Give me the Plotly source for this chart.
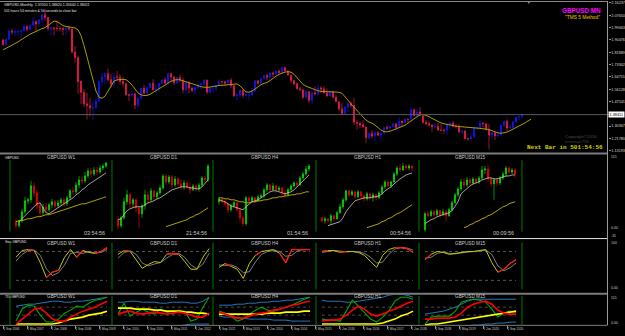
import plotly.graph_objects as go

W, H = 625, 336
def px(x): return x / W
def py(y): return 1 - y / H

FONT = "Liberation Sans"
MONO = "Liberation Mono"

# ---------------- main monthly chart (Sep 2006 .. Feb 2021) ----------------
mn_first_open = 1.9050
mn_close = [1.8725, 1.9085, 1.9670, 1.9585,
    1.9610, 1.9625, 1.9680, 1.9995, 1.9785, 2.0065, 2.0320, 2.0155, 2.0445, 2.0805, 2.0600, 1.9845,
    1.9890, 1.9860, 1.9840, 1.9840, 1.9780, 1.9900, 1.9810, 1.8210, 1.7810, 1.6150, 1.5390, 1.4590,
    1.4470, 1.4310, 1.4340, 1.4790, 1.6160, 1.6460, 1.6700, 1.6280, 1.5980, 1.6460, 1.6450, 1.6150,
    1.5990, 1.5230, 1.5180, 1.5280, 1.4500, 1.4960, 1.5680, 1.5330, 1.5720, 1.6030, 1.5570, 1.5610,
    1.6020, 1.6260, 1.6040, 1.6690, 1.6460, 1.6050, 1.6430, 1.6240, 1.5580, 1.6080, 1.5690, 1.5530,
    1.5730, 1.5920, 1.5990, 1.6230, 1.5410, 1.5680, 1.5680, 1.5870, 1.6150, 1.6130, 1.6030, 1.6250,
    1.5860, 1.5160, 1.5190, 1.5530, 1.5190, 1.5210, 1.5210, 1.5500, 1.6190, 1.6030, 1.6360, 1.6560,
    1.6440, 1.6740, 1.6670, 1.6880, 1.6750, 1.7100, 1.6880, 1.6590, 1.6210, 1.5990, 1.5640, 1.5580,
    1.5050, 1.5440, 1.4830, 1.5360, 1.5280, 1.5710, 1.5620, 1.5340, 1.5130, 1.5430, 1.5050, 1.4740,
    1.4240, 1.3910, 1.4370, 1.4610, 1.4480, 1.3310, 1.3230, 1.3130, 1.2970, 1.2240, 1.2510, 1.2340,
    1.2580, 1.2410, 1.2550, 1.2950, 1.2890, 1.3020, 1.3200, 1.2930, 1.3400, 1.3280, 1.3530, 1.3510,
    1.4190, 1.3770, 1.4030, 1.3760, 1.3300, 1.3200, 1.3120, 1.3000, 1.3030, 1.2770, 1.2750, 1.2750,
    1.3110, 1.3260, 1.3030, 1.3030, 1.2640, 1.2700, 1.2160, 1.2160, 1.2290, 1.2930, 1.2930, 1.3260,
    1.3200, 1.2820, 1.2420, 1.2590, 1.2350, 1.2410, 1.3090, 1.3370, 1.2910, 1.2940, 1.3330, 1.3670,
    1.3710, 1.38411]
mn_high = [1.9080, 1.9110, 1.9790, 1.9850,
    1.9790, 1.9730, 1.9730, 2.0130, 2.0000, 2.0090, 2.0660, 2.0390, 2.0460, 2.0820, 2.1160, 2.0650,
    1.9980, 1.9915, 2.0400, 1.9990, 1.9950, 1.9970, 2.0030, 1.9850, 1.8620, 1.7940, 1.6220, 1.5630,
    1.5380, 1.5020, 1.4750, 1.5000, 1.6190, 1.6740, 1.6740, 1.7040, 1.6660, 1.6740, 1.6880, 1.6650,
    1.6460, 1.6070, 1.5300, 1.5520, 1.5380, 1.5050, 1.5720, 1.5900, 1.5780, 1.6100, 1.6300, 1.5960,
    1.6060, 1.6280, 1.6420, 1.6750, 1.6750, 1.6550, 1.6480, 1.6620, 1.6420, 1.6140, 1.6170, 1.5790,
    1.5830, 1.5990, 1.6010, 1.6300, 1.6300, 1.5780, 1.5750, 1.5910, 1.6310, 1.6180, 1.6170, 1.6310,
    1.6380, 1.5880, 1.5290, 1.5580, 1.5620, 1.5760, 1.5430, 1.5720, 1.6260, 1.6260, 1.6380, 1.6600,
    1.6670, 1.6820, 1.6820, 1.6910, 1.6990, 1.7120, 1.7190, 1.6900, 1.6650, 1.6290, 1.6080, 1.5790,
    1.5590, 1.5550, 1.5450, 1.5500, 1.5810, 1.5930, 1.5800, 1.5820, 1.5660, 1.5510, 1.5490, 1.5240,
    1.4750, 1.4670, 1.4460, 1.4640, 1.4770, 1.5010, 1.3480, 1.3370, 1.3450, 1.3000, 1.2670, 1.2770,
    1.2700, 1.2710, 1.2620, 1.2960, 1.3050, 1.3030, 1.3280, 1.3240, 1.3660, 1.3420, 1.3550, 1.3550,
    1.4350, 1.4220, 1.4240, 1.4380, 1.3800, 1.3470, 1.3360, 1.3150, 1.3300, 1.3260, 1.3180, 1.2840,
    1.3220, 1.3350, 1.3380, 1.3190, 1.3180, 1.2790, 1.2750, 1.2250, 1.2580, 1.3010, 1.2990, 1.3510,
    1.3280, 1.3210, 1.3200, 1.2650, 1.2650, 1.2810, 1.3140, 1.3390, 1.3480, 1.3170, 1.3400, 1.3680,
    1.3750, 1.3860]
mn_low = [1.8610, 1.8610, 1.9010, 1.9430,
    1.9340, 1.9340, 1.9180, 1.9600, 1.9650, 1.9640, 2.0040, 1.9640, 1.9960, 2.0200, 2.0400, 1.9680,
    1.9335, 1.9360, 1.9650, 1.9620, 1.9360, 1.9370, 1.9720, 1.8100, 1.7440, 1.5270, 1.4580, 1.4360,
    1.3500, 1.3720, 1.3510, 1.4250, 1.4680, 1.5850, 1.5960, 1.6150, 1.5710, 1.5710, 1.6190, 1.5950,
    1.5810, 1.5150, 1.4780, 1.5020, 1.4230, 1.4310, 1.5030, 1.5310, 1.5290, 1.5650, 1.5510, 1.5350,
    1.5420, 1.5970, 1.5920, 1.5930, 1.6140, 1.5910, 1.5970, 1.6100, 1.5330, 1.5270, 1.5330, 1.5420,
    1.5230, 1.5600, 1.5600, 1.5800, 1.5270, 1.5270, 1.5350, 1.5470, 1.5830, 1.5910, 1.5830, 1.5990,
    1.5680, 1.5070, 1.4830, 1.5010, 1.5010, 1.5150, 1.4810, 1.5130, 1.5420, 1.5890, 1.5860, 1.6290,
    1.6240, 1.6250, 1.6460, 1.6530, 1.6700, 1.6690, 1.6860, 1.6570, 1.6050, 1.5870, 1.5590, 1.5480,
    1.4950, 1.4950, 1.4630, 1.4560, 1.5170, 1.5170, 1.5330, 1.5330, 1.5100, 1.5110, 1.5020, 1.4730,
    1.4080, 1.3840, 1.3840, 1.4000, 1.4330, 1.3120, 1.2800, 1.2870, 1.2920, 1.1840, 1.2080, 1.2200,
    1.1980, 1.2350, 1.2110, 1.2370, 1.2770, 1.2590, 1.2930, 1.2770, 1.2920, 1.3030, 1.3040, 1.3300,
    1.3450, 1.3710, 1.3710, 1.3750, 1.3200, 1.3100, 1.3000, 1.2660, 1.2900, 1.2700, 1.2720, 1.2480,
    1.2380, 1.2780, 1.2960, 1.2870, 1.2560, 1.2500, 1.2120, 1.2010, 1.2190, 1.2200, 1.2770, 1.2900,
    1.2950, 1.2730, 1.1410, 1.2170, 1.2070, 1.2250, 1.2480, 1.3000, 1.2680, 1.2850, 1.2850, 1.3260,
    1.3450, 1.3560]
# shifted moving average (extends 3 bars beyond the last candle)
mn_ma = [1.835, 1.845, 1.857, 1.868, 1.876, 1.890, 1.905, 1.920, 1.932, 1.944, 1.954, 1.965, 1.975, 1.983,
    1.990, 2.005, 2.022, 2.036, 2.032, 2.018, 2.004, 1.998, 1.993, 1.990, 1.988, 1.975, 1.935, 1.865,
    1.785, 1.700, 1.615, 1.548, 1.505, 1.498, 1.512, 1.548, 1.590, 1.618, 1.626, 1.630, 1.630, 1.627,
    1.612, 1.590, 1.560, 1.535, 1.522, 1.517, 1.518, 1.525, 1.538, 1.552, 1.566, 1.580, 1.594, 1.606,
    1.616, 1.624, 1.628, 1.626, 1.620, 1.612, 1.605, 1.600, 1.594, 1.586, 1.578, 1.574, 1.573, 1.576,
    1.581, 1.585, 1.587, 1.588, 1.590, 1.594, 1.598, 1.600, 1.598, 1.585, 1.560, 1.542, 1.540, 1.548,
    1.562, 1.578, 1.592, 1.602, 1.608, 1.620, 1.638, 1.652, 1.664, 1.674, 1.680, 1.683, 1.680, 1.665,
    1.640, 1.615, 1.595, 1.582, 1.573, 1.565, 1.556, 1.550, 1.546, 1.545, 1.544, 1.543, 1.542, 1.541,
    1.540, 1.532, 1.510, 1.485, 1.458, 1.436, 1.415, 1.392, 1.368, 1.345, 1.332, 1.325, 1.310, 1.292,
    1.276, 1.266, 1.264, 1.268, 1.275, 1.283, 1.292, 1.301, 1.310, 1.325, 1.343, 1.360, 1.375, 1.384,
    1.385, 1.380, 1.370, 1.358, 1.346, 1.335, 1.326, 1.320, 1.315, 1.310, 1.306, 1.303, 1.301, 1.300,
    1.298, 1.296, 1.294, 1.292, 1.290, 1.288, 1.287, 1.285, 1.280, 1.272, 1.264, 1.257, 1.254, 1.256,
    1.262, 1.272, 1.283, 1.292, 1.300, 1.312, 1.326, 1.340, 1.352]
price_ticks = [2.16237, 2.07650, 1.99063, 1.90476, 1.81889, 1.73302, 1.64715, 1.56128, 1.47541,
               1.30367, 1.21780, 1.13193]
last_price = 1.38411
time_ticks = [0, 8, 16, 24, 32, 40, 48, 56, 64, 72, 80, 88, 96, 104, 112, 120, 128, 136, 144, 152, 160, 168]
time_labels = ["1 Sep 2006", "1 May 2007", "1 Jan 2008", "1 Sep 2008", "1 May 2009", "1 Jan 2010",
               "1 Sep 2010", "1 May 2011", "1 Jan 2012", "1 Sep 2012", "1 May 2013", "1 Jan 2014",
               "1 Sep 2014", "1 May 2015", "1 Jan 2016", "1 Sep 2016", "1 May 2017", "1 Jan 2018",
               "1 Sep 2018", "1 May 2019", "1 Jan 2020", "1 Sep 2020"]

# ---------------- multi-timeframe mini charts ----------------
tf_names = ["GBPUSD W1", "GBPUSD D1", "GBPUSD H4", "GBPUSD H1", "GBPUSD M15"]
tf_timers = ["03:54:56", "21:54:56", "01:54:56", "00:54:56", "00:09:56"]
mini_first_open = [18, 20, 38, 22, 10]
mini_close = [
    [14, 19, 28, 39, 40, 54, 47, 34, 27, 33, 30, 35, 38, 34, 37, 40, 36, 42, 49, 48, 55, 60, 59, 64, 69, 66, 70, 68, 72, 74, 77],
    [14, 22, 38, 45, 36, 40, 32, 26, 34, 45, 40, 49, 43, 47, 52, 64, 58, 63, 55, 61, 56, 53, 57, 53, 50, 54, 51, 55, 62, 60, 74],
    [41, 38, 36, 30, 34, 37, 30, 22, 16, 42, 39, 42, 39, 43, 44, 50, 55, 50, 54, 50, 52, 47, 45, 50, 54, 57, 55, 62, 66, 71, 74],
    [19, 21, 19, 24, 21, 27, 33, 40, 49, 45, 48, 43, 48, 44, 41, 46, 42, 45, 42, 47, 53, 58, 54, 58, 66, 72, 70, 74, 72, 74, 72],
    [26, 24, 28, 25, 29, 25, 28, 24, 30, 37, 45, 51, 58, 55, 60, 57, 61, 58, 62, 70, 71, 61, 56, 60, 57, 62, 66, 72, 68, 70, 66],
]
mini_high = [
    [21, 20, 31, 43, 42, 59, 57, 50, 37, 36, 37, 37, 41, 40, 40, 42, 42, 44, 51, 53, 58, 64, 64, 68, 72, 72, 73, 73, 75, 76, 78],
    [24, 24, 42, 50, 47, 42, 41, 34, 36, 50, 48, 52, 50, 49, 55, 66, 66, 65, 65, 64, 63, 60, 60, 59, 57, 56, 56, 57, 64, 64, 76],
    [43, 42, 40, 37, 36, 39, 38, 31, 24, 44, 44, 44, 43, 45, 46, 52, 57, 56, 57, 55, 54, 53, 50, 52, 56, 59, 59, 64, 68, 74, 76],
    [23, 23, 22, 26, 25, 29, 36, 42, 50, 50, 50, 49, 50, 49, 46, 48, 47, 47, 46, 49, 55, 60, 60, 59, 68, 74, 76, 77, 76, 76, 75],
    [28, 29, 30, 30, 31, 30, 31, 30, 32, 39, 47, 53, 61, 62, 63, 62, 63, 62, 64, 74, 74, 75, 63, 62, 62, 64, 68, 74, 74, 72, 72],
]
mini_low = [
    [11, 12, 17, 26, 36, 37, 43, 31, 24, 25, 27, 28, 32, 31, 32, 34, 33, 34, 40, 45, 46, 52, 56, 57, 62, 63, 64, 65, 66, 70, 72],
    [10, 12, 20, 35, 32, 32, 27, 12, 22, 30, 36, 38, 40, 40, 45, 50, 55, 56, 52, 53, 54, 50, 50, 51, 46, 49, 48, 48, 53, 57, 58],
    [35, 36, 33, 27, 28, 32, 28, 18, 13, 14, 37, 38, 37, 38, 41, 42, 48, 48, 49, 47, 48, 44, 42, 44, 49, 52, 53, 54, 60, 64, 69],
    [17, 16, 17, 15, 18, 20, 26, 31, 38, 43, 44, 41, 42, 41, 38, 39, 40, 38, 39, 41, 45, 51, 52, 52, 57, 64, 68, 69, 70, 70, 69],
    [8, 22, 23, 23, 24, 22, 24, 18, 23, 29, 36, 43, 49, 52, 53, 55, 55, 56, 56, 60, 66, 58, 53, 40, 54, 55, 60, 63, 66, 66, 62],
]
N = None
mini_ma_fast = [
    [N, 18, 21, 24, 27, 30, 33, 36, 37, 32, 27, 26, 28, 30, 32, 34, 36, 38, 40, 42, 45, 47, 50, 52, 55, 57, 59, 61, 63, 65, 67],
    [20, 21, 25, 29, 31, 32, 33, 33, 33, 35, 37, 38, 39, 41, 42, 44, 46, 48, 50, 51, 52, 53, 53, 53, 52, 52, 51, 51, 53, 56, 60],
    [40, 39, 38, 36, 34, 33, 32, 31, 30, 33, 36, 38, 39, 40, 42, 44, 46, 48, 49, 49, 48, 47, 46, 47, 48, 50, 53, 56, 59, 62, 65],
    [N, N, 14, 15, 16, 17, 18, 22, 28, 32, 36, 39, 40, 41, 42, 42, 42, 43, 43, 44, 46, 49, 51, 53, 56, 59, 61, 63, 65, 66, 67],
    [16, 18, 20, 21, 23, 24, 25, 26, 27, 29, 33, 38, 46, 49, 52, 54, 56, 57, 58, 60, 61, 62, 62, 61, 61, 62, 63, 64, 64, 65, 65],
]
mini_ma_slow = [
    [18, 19, 19, 20, 21, 21, 22, 23, 23, 24, 25, 25, 26, 27, 28, 29, 30, 31, 32, 33, 34, 35, 36, 36, 37, 38, 39, 40, 41, 42, 43],
    [N, N, N, N, N, N, N, N, N, N, N, N, N, N, N, N, 13, 14, 15, 16, 17, 18, 19, 20, 22, 23, 25, 26, 28, 30, 32],
    [42, 42, 41, 41, 40, 40, 39, 38, 38, 37, 37, 38, 38, 39, 39, 40, 40, 41, 42, 42, 43, 43, 44, 44, 45, 45, 46, 46, 47, 48, 48],
    [N, N, N, N, N, N, N, N, N, N, N, N, N, N, N, 12, 13, 14, 15, 16, 18, 19, 21, 22, 24, 26, 27, 29, 31, 33, 35],
    [N, N, N, N, N, N, N, N, N, N, N, N, N, 12, 13, 15, 16, 18, 19, 21, 22, 24, 25, 27, 29, 31, 33, 34, 36, 37, 38],
]

# ---------------- stochastic sub-window ----------------
stoch_k = [
    [68, 82, 84, 82, 57, 26, 37, 41, 68, 84, 68, 82, 78, 76, 80, 88],
    [74, 82, 80, 63, 45, 53, 59, 57, 74, 76, 74, 59, 43, 43, 68, 86],
    [47, 55, 49, 43, 24, 55, 72, 80, 82, 84, 76, 57, 84, 84, 84, 84],
    [80, 82, 82, 78, 80, 80, 78, 72, 59, 47, 72, 84, 88, 88, 86, 78],
    [63, 74, 80, 78, 74, 76, 78, 80, 80, 82, 84, 57, 37, 43, 55, 63],
]
stoch_d = [
    [60, 74, 82, 83, 72, 44, 30, 36, 52, 76, 78, 76, 80, 77, 78, 84],
    [66, 78, 81, 74, 56, 50, 54, 57, 66, 74, 76, 68, 52, 44, 54, 76],
    [52, 51, 52, 47, 36, 38, 58, 74, 80, 82, 80, 70, 72, 82, 84, 84],
    [78, 80, 82, 81, 79, 80, 79, 76, 68, 56, 58, 74, 85, 88, 87, 83],
    [66, 68, 76, 79, 76, 75, 77, 79, 80, 81, 83, 74, 50, 40, 46, 56],
]
stoch_hot = [
    [0, 0, 1, 1, 0, 1, 1, 1, 0, 0, 1, 1, 0, 1, 1, 1],
    [0, 1, 1, 0, 0, 0, 0, 0, 1, 1, 1, 0, 0, 0, 0, 0],
    [0, 1, 1, 0, 0, 0, 1, 1, 0, 0, 1, 1, 1, 1, 1, 1],
    [1, 1, 0, 1, 1, 0, 0, 0, 0, 0, 0, 0, 1, 1, 1, 1],
    [1, 1, 0, 0, 0, 0, 0, 0, 0, 0, 0, 0, 1, 1, 1, 1],
]
stoch_levels = [80, 20]

# ---------------- TDI sub-window ----------------
tdi_upper = [
    [23, 24, 25, 25, 26, 27, 28, 28, 27, 27, 28, 28, 29, 30, 31, 32],
    [27, 27, 28, 28, 27, 27, 27, 26, 26, 27, 27, 27, 26, 26, 28, 32],
    [24, 24, 24, 25, 25, 26, 26, 27, 27, 28, 28, 29, 29, 30, 31, 32],
    [29, 28, 28, 28, 27, 27, 28, 29, 30, 31, 32, 34, 35, 35, 34, 32],
    [15, 16, 17, 18, 20, 22, 25, 28, 30, 30, 30, 30, 30, 30, 30, 30],
]
tdi_lower = [
    [-2, -2, -2, -1, -1, -1, 0, 0, 0, 1, 1, 1, 2, 2, 3, 3],
    [2, 2, 2, 2, 2, 2, 2, 2, 2, 3, 3, 4, 5, 5, 5, 5],
    [13, 12, 12, 11, 11, 10, 10, 10, 10, 9, 9, 9, 8, 8, 8, 8],
    [0, 0, 0, 0, 0, 0, 0, 0, 0, 0, 0, 1, 1, 2, 3, 3],
    [0, 0, 0, 0, 0, 1, 2, 3, 4, 4, 5, 5, 6, 6, 7, 7],
]
tdi_base = [
    [5, 5, 5, 5, 5, 5, 5, 6, 8, 10, 11, 12, 14, 15, 16, 18],
    [21, 21, 21, 20, 20, 20, 19, 19, 18, 18, 18, 17, 17, 16, 16, 15],
    [15, 15, 15, 15, 15, 15, 15, 15, 16, 16, 16, 17, 17, 17, 18, 18],
    [5, 5, 5, 5, 5, 5, 5, 5, 5, 5, 6, 8, 10, 13, 15, 18],
    [4, 5, 5, 6, 7, 8, 9, 10, 11, 12, 13, 14, 15, 16, 17, 18],
]
tdi_signal = [
    [5, 10, 15, 20, 21, 16, 10, 8, 8, 12, 15, 18, 20, 22, 25, 28],
    [15, 17, 18, 16, 15, 16, 17, 16, 15, 16, 17, 16, 14, 12, 12, 16],
    [17, 15, 13, 11, 11, 13, 15, 16, 17, 19, 20, 22, 24, 25, 27, 28],
    [8, 9, 9, 10, 14, 19, 23, 20, 15, 13, 15, 18, 20, 23, 26, 28],
    [10, 10, 11, 11, 11, 12, 16, 22, 25, 27, 28, 25, 19, 16, 15, 15],
]
tdi_rsi = [
    [8, 20, 24, 23, 14, 7, 7, 10, 16, 19, 23, 22, 26, 29, 30, 32],
    [15, 26, 13, 17, 20, 17, 15, 20, 17, 15, 19, 18, 8, 10, 22, 32],
    [18, 16, 13, 8, 10, 15, 19, 22, 19, 18, 20, 22, 24, 27, 30, 32],
    [10, 9, 9, 8, 18, 29, 23, 16, 10, 7, 12, 18, 28, 32, 32, 30],
    [5, 12, 13, 13, 13, 18, 27, 29, 30, 29, 27, 20, 12, 16, 18, 17],
]
tdi_levels = [22, 14]

# ---------------- colours ----------------
UP, DN, MA_C = "#1a1aff", "#ff2050", "#a89c00"
M_UP, M_DN = "#00f000", "#ff0000"
GRID_GREEN = "#007a00"

fig = go.Figure()

# main candles
mn_open = [mn_first_open] + mn_close[:-1]
fig.add_trace(go.Candlestick(
    x=list(range(len(mn_close))), open=mn_open, high=mn_high, low=mn_low, close=mn_close,
    increasing=dict(line=dict(color=UP, width=0.6), fillcolor=UP),
    decreasing=dict(line=dict(color=DN, width=0.6), fillcolor=DN),
    whiskerwidth=0, hoverinfo="skip", xaxis="x", yaxis="y"))
fig.add_trace(go.Scatter(x=list(range(len(mn_ma))), y=mn_ma, mode="lines",
                         line=dict(color=MA_C, width=1), hoverinfo="skip", xaxis="x", yaxis="y"))

L = [10, 112, 213, 316, 419]
layout_axes = {}
for k in range(5):
    c, s, t = 2 + k, 7 + k, 12 + k
    dom = [px(L[k]), px(L[k] + 103)]
    # candles
    op = [mini_first_open[k]] + mini_close[k][:-1]
    idx = list(range(len(mini_close[k])))
    fig.add_trace(go.Candlestick(
        x=idx, open=op, high=mini_high[k], low=mini_low[k], close=mini_close[k],
        increasing=dict(line=dict(color=M_UP, width=0.6), fillcolor=M_UP),
        decreasing=dict(line=dict(color=M_DN, width=0.6), fillcolor=M_DN),
        whiskerwidth=0, hoverinfo="skip", xaxis=f"x{c}", yaxis=f"y{c}"))
    fig.add_trace(go.Scatter(x=idx, y=mini_ma_slow[k], mode="lines", line=dict(color="#b0a000", width=1),
                             hoverinfo="skip", xaxis=f"x{c}", yaxis=f"y{c}"))
    fig.add_trace(go.Scatter(x=idx, y=mini_ma_fast[k], mode="lines", line=dict(color="#c8c8c8", width=0.8),
                             hoverinfo="skip", xaxis=f"x{c}", yaxis=f"y{c}"))
    layout_axes[f"xaxis{c}"] = dict(visible=False, domain=dom, range=[-2, 32.33], anchor=f"y{c}",
                                    rangeslider=dict(visible=False), fixedrange=True)
    layout_axes[f"yaxis{c}"] = dict(visible=False, domain=[py(238), py(155)], range=[2, 85],
                                    anchor=f"x{c}", fixedrange=True)
    # stochastic
    si = list(range(len(stoch_k[k])))
    for lv in stoch_levels:
        fig.add_trace(go.Scatter(x=[si[0], si[-1]], y=[lv, lv], mode="lines",
                                 line=dict(color="#7a7a7a", width=0.7, dash="dot"),
                                 hoverinfo="skip", xaxis=f"x{s}", yaxis=f"y{s}"))
    fig.add_trace(go.Scatter(x=si, y=stoch_d[k], mode="lines", line=dict(color="#8a8a8a", width=0.9),
                             hoverinfo="skip", xaxis=f"x{s}", yaxis=f"y{s}"))
    fig.add_trace(go.Scatter(x=si, y=stoch_k[k], mode="lines", line=dict(color="#c8c800", width=1),
                             hoverinfo="skip", xaxis=f"x{s}", yaxis=f"y{s}"))
    fig.add_trace(go.Scatter(x=si, y=[v if h else None for v, h in zip(stoch_k[k], stoch_hot[k])],
                             mode="lines", line=dict(color="#ff1010", width=1.2),
                             hoverinfo="skip", xaxis=f"x{s}", yaxis=f"y{s}"))
    layout_axes[f"xaxis{s}"] = dict(visible=False, domain=dom, range=[-0.99, 15.98], anchor=f"y{s}", fixedrange=True)
    layout_axes[f"yaxis{s}"] = dict(visible=False, domain=[py(290.7), py(242.3)], range=[0, 100],
                                    anchor=f"x{s}", fixedrange=True)
    # TDI
    for lv in tdi_levels:
        fig.add_trace(go.Scatter(x=[si[0], si[-1]], y=[lv, lv], mode="lines",
                                 line=dict(color="#6a6a6a", width=0.7, dash="dot"),
                                 hoverinfo="skip", xaxis=f"x{t}", yaxis=f"y{t}"))
    for arr, col, wd in [(tdi_upper, "#2277bb", 1), (tdi_lower, "#2277bb", 1), (tdi_rsi, "#00a800", 1.1),
                         (tdi_base, "#ffff00", 1.6), (tdi_signal, "#ff0000", 1.6)]:
        fig.add_trace(go.Scatter(x=si, y=arr[k], mode="lines", line=dict(color=col, width=wd),
                                 hoverinfo="skip", xaxis=f"x{t}", yaxis=f"y{t}"))
    layout_axes[f"xaxis{t}"] = dict(visible=False, domain=dom, range=[-0.99, 15.98], anchor=f"y{t}", fixedrange=True)
    layout_axes[f"yaxis{t}"] = dict(visible=False, domain=[py(327), py(295)], range=[3, 35],
                                    anchor=f"x{t}", fixedrange=True)

# ---------------- decorations ----------------
def hline(y, x0, x1, color, width):
    return dict(type="line", xref="paper", yref="paper", x0=px(x0), x1=px(x1), y0=py(y), y1=py(y),
                line=dict(color=color, width=width))
def vline(x, y0, y1, color, width):
    return dict(type="line", xref="paper", yref="paper", x0=px(x), x1=px(x), y0=py(y0), y1=py(y1),
                line=dict(color=color, width=width))

shapes = [
    dict(type="line", xref="paper", x0=0, x1=px(607), yref="y", y0=last_price, y1=last_price,
         line=dict(color="#5a5a5a", width=1)),
    hline(0.5, 0, 607, "#8a8a8a", 1),
    hline(153.3, 0, 607, "#7c7c7c", 2),
    hline(239, 0, 607, "#e6e6e6", 1),
    hline(294.6, 0, 607, "#7c7c7c", 2),
    hline(326.3, 0, 607, "#7c7c7c", 1),
    vline(607.5, 0, 326.3, "#9a9a9a", 1),
]
for gx in [10, 112, 213, 316, 419, 522]:
    shapes.append(vline(gx, 160, 232, GRID_GREEN, 1))
    shapes.append(vline(gx, 243, 290, GRID_GREEN, 1))
    shapes.append(vline(gx, 297, 326, GRID_GREEN, 1))

ann = []
def txt(x, y, s, size, color, xa="left", family=FONT, bg=None):
    d = dict(x=px(x), y=py(y), xref="paper", yref="paper", text=s, showarrow=False,
             xanchor=xa, yanchor="middle", font=dict(family=family, size=size, color=color))
    if bg:
        d["bgcolor"] = bg
        d["borderpad"] = 0.5
    ann.append(d)

txt(2, 4.3, "GBPUSD,Monthly  1.37010 1.38620 1.35640 1.38411", 3.6, "#e0e0e0")
txt(2, 10.2, "501 hours 54 minutes &amp; 56 seconds to close bar", 3.4, "#e0e0e0")
txt(603, 9.3, "<b>GBPUSD MN</b>", 6.3, "#ff00ff", xa="right")
txt(602, 17, "\"TMS 5 Method\"", 4.8, "#f0c800", xa="right")
txt(563, 136.8, "Copyright©2016", 4.4, "#4c4c4c")
txt(563, 141.6, "ernestrp1758", 4.0, "#444444")
txt(604.5, 147.6, "<b>Next Bar in 501:54:56</b>", 6, "#d2d200", xa="right", family=MONO)
txt(528, 2.2, "▼", 3.5, "#9a9a9a", xa="center")
txt(3, 157.6, "GBPUSD", 3.3, "#e0e0e0")
txt(3, 242.6, "Stoc GBPUSD", 3.3, "#e0e0e0")
txt(3, 297.4, "TDI GBPUSD", 3.3, "#e0e0e0")
for k in range(5):
    txt(L[k] + 51.5, 157.3, tf_names[k], 4.7, "#c8c8c8", xa="center")
    txt(L[k] + 51.5, 244.3, tf_names[k], 4.7, "#c8c8c8", xa="center")
    txt(L[k] + 51.5, 297.6, tf_names[k], 4.7, "#c8c8c8", xa="center")
    txt(L[k] + 84.5, 233.2, tf_timers[k], 5.4, "#c8c8c8", xa="center")
for yy, s in [(156.5, "115"), (228.5, "0.00"), (236.5, "-31"), (243.5, "100"), (288.5, "0.00"),
              (298.5, "115"), (324.0, "0.00")]:
    txt(609, yy, s, 3.5, "#c8c8c8")
ann.append(dict(x=px(607.6), xref="paper", y=last_price, yref="y", text="1.38411", showarrow=False,
                xanchor="left", yanchor="middle", bgcolor="#ffffff", borderpad=0.6,
                font=dict(family=FONT, size=3.8, color="#000000")))

layout = dict(
    width=W, height=H, margin=dict(l=0, r=0, t=0, b=0),
    paper_bgcolor="#000000", plot_bgcolor="#000000", showlegend=False, hovermode=False,
    boxgap=0.45,
    xaxis=dict(domain=[0, px(607)], range=[-1, 201.33], anchor="free", position=py(326.3),
               showgrid=False, zeroline=False, showline=False, tickmode="array",
               tickvals=time_ticks, ticktext=time_labels, ticks="outside", ticklen=2.5,
               tickcolor="#9a9a9a", tickwidth=1, ticklabelposition="outside right", tickangle=0,
               tickfont=dict(family=FONT, size=3.1, color="#c8c8c8"),
               rangeslider=dict(visible=False), fixedrange=True),
    yaxis=dict(domain=[py(152.5), py(1)], range=[1.1194, 2.1686], side="right", anchor="free",
               position=px(607.5), showgrid=False, zeroline=False, showline=False,
               tickmode="array", tickvals=price_ticks, ticktext=[f"{v:.5f}" for v in price_ticks],
               ticks="outside", ticklen=2, tickcolor="#9a9a9a",
               tickfont=dict(family=FONT, size=3.8, color="#d8d8d8"), fixedrange=True),
    shapes=shapes, annotations=ann,
)
layout.update(layout_axes)
fig.update_layout(**layout)
fig.write_html("out.html")
